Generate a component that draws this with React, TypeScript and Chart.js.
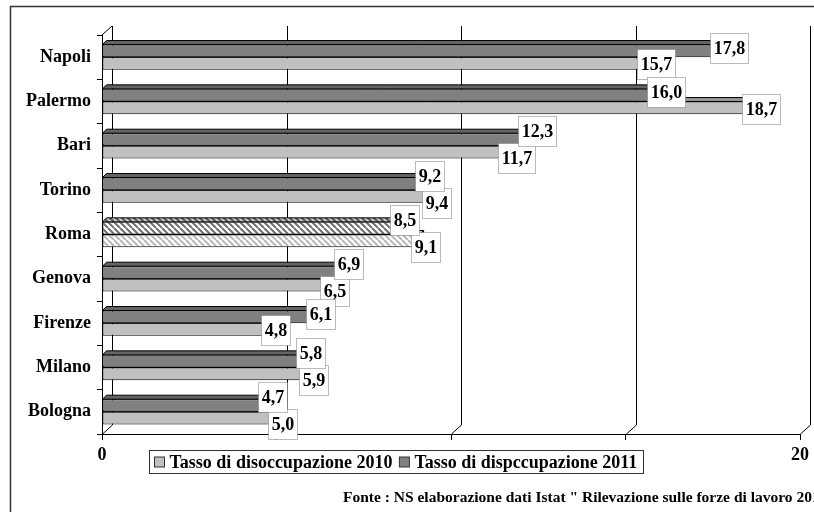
import React, { useEffect, useRef } from 'react';
import { Chart, registerables } from 'chart.js';

Chart.register(...registerables);

const cities = ['Napoli', 'Palermo', 'Bari', 'Torino', 'Roma', 'Genova', 'Firenze', 'Milano', 'Bologna'];
const rate2011 = [17.8, 16.0, 12.3, 9.2, 8.5, 6.9, 6.1, 5.8, 4.7];
const rate2010 = [15.7, 18.7, 11.7, 9.4, 9.1, 6.5, 4.8, 5.9, 5.0];
const label2010 = 'Tasso di disoccupazione 2010';
const label2011 = 'Tasso di dispccupazione 2011';
const hatchedCity = 'Roma';
const xTicksShown = [0, 20];
const sourceNote = 'Fonte : NS elaborazione dati Istat " Rilevazione sulle forze di lavoro 2011 "';

const DARK = '#808080';
const LIGHT = '#c0c0c0';
const FONT = '"Liberation Serif", "Times New Roman", serif';
const D = 4;
const WALL_DX = 10;
const WALL_DY = 9;

function makeHatch(fg: string) {
  const s = 6;
  const c = document.createElement('canvas');
  c.width = s;
  c.height = s;
  const g = c.getContext('2d')!;
  g.fillStyle = '#fff';
  g.fillRect(0, 0, s, s);
  g.strokeStyle = fg;
  g.lineWidth = 2;
  for (let k = -1; k <= 1; k++) {
    g.beginPath();
    g.moveTo(k * s, 0);
    g.lineTo(k * s + s, s);
    g.stroke();
  }
  const p = g.createPattern(c, 'repeat');
  return p || fg;
}

const wallPlugin = {
  id: 'wall',
  beforeDatasetsDraw(chart: any) {
    const { ctx, chartArea: a, scales } = chart;
    const x = scales.x;
    ctx.save();
    ctx.strokeStyle = '#000';
    ctx.lineWidth = 1;
    for (let v = 0; v <= 20; v += 5) {
      const px = Math.round(x.getPixelForValue(v)) + 0.5;
      ctx.beginPath();
      ctx.moveTo(px, a.bottom);
      ctx.lineTo(px + WALL_DX, a.bottom - WALL_DY);
      ctx.lineTo(px + WALL_DX, a.top - WALL_DY);
      ctx.stroke();
    }
    ctx.beginPath();
    ctx.moveTo(a.left, a.top);
    ctx.lineTo(a.left + WALL_DX, a.top - WALL_DY);
    ctx.stroke();
    ctx.restore();
  },
};

const barDepthPlugin = {
  id: 'barDepth',
  beforeDatasetDraw(chart: any, args: any) {
    const ctx = chart.ctx;
    const meta = args.meta;
    const ds = chart.data.datasets[args.index];
    ctx.save();
    ctx.strokeStyle = '#000';
    ctx.lineWidth = 1;
    meta.data.forEach((bar: any, i: number) => {
      const { x, y, base, height } = bar.getProps(['x', 'y', 'base', 'height'], true);
      const top = y - height / 2;
      const bottom = y + height / 2;
      const fill = Array.isArray(ds.backgroundColor) ? ds.backgroundColor[i] : ds.backgroundColor;
      ctx.beginPath();
      ctx.moveTo(base, top);
      ctx.lineTo(base + D, top - D);
      ctx.lineTo(x + D, top - D);
      ctx.lineTo(x, top);
      ctx.closePath();
      ctx.fillStyle = fill;
      ctx.fill();
      ctx.fillStyle = 'rgba(0,0,0,0.22)';
      ctx.fill();
      ctx.stroke();
      ctx.beginPath();
      ctx.moveTo(x, top);
      ctx.lineTo(x + D, top - D);
      ctx.lineTo(x + D, bottom - D);
      ctx.lineTo(x, bottom);
      ctx.closePath();
      ctx.fillStyle = fill;
      ctx.fill();
      ctx.fillStyle = 'rgba(0,0,0,0.35)';
      ctx.fill();
      ctx.stroke();
    });
    ctx.restore();
  },
};

const valueBoxPlugin = {
  id: 'valueBoxes',
  afterDatasetsDraw(chart: any) {
    const ctx = chart.ctx;
    ctx.save();
    ctx.font = 'bold 18px ' + FONT;
    ctx.textAlign = 'center';
    ctx.textBaseline = 'middle';
    const h = 30;
    const boxes: any[][] = [[], []];
    [0, 1].forEach((di) => {
      const meta = chart.getDatasetMeta(di);
      const ds = chart.data.datasets[di];
      meta.data.forEach((bar: any, i: number) => {
        const { x, y } = bar.getProps(['x', 'y'], true);
        const text = Number(ds.data[i]).toFixed(1).replace('.', ',');
        const w = Math.round(ctx.measureText(text).width + 6);
        const cx = x + 6;
        const cy = di === 0 ? y - 3 : y + 1;
        boxes[di][i] = { text, w, cx, cy };
      });
    });
    for (let i = 0; i < boxes[0].length; i++) {
      const a = boxes[0][i];
      const b = boxes[1][i];
      const ov = Math.min(a.cx + a.w / 2, b.cx + b.w / 2) - Math.max(a.cx - a.w / 2, b.cx - b.w / 2);
      if (ov > 4) {
        const mid = (a.cy + b.cy) / 2;
        a.cy = mid - 13.5;
        b.cy = mid + 13.5;
      }
    }
    for (const di of [1, 0]) {
      boxes[di].forEach((bx: any) => {
        const left = Math.round(bx.cx - bx.w / 2) + 0.5;
        const top = Math.round(bx.cy - h / 2) + 0.5;
        ctx.fillStyle = '#fff';
        ctx.fillRect(left, top, bx.w, h);
        ctx.setLineDash([1, 1]);
        ctx.strokeStyle = '#777';
        ctx.lineWidth = 1;
        ctx.strokeRect(left, top, bx.w, h);
        ctx.setLineDash([]);
        ctx.fillStyle = '#000';
        ctx.fillText(bx.text, left + bx.w / 2, top + h / 2 + 1);
      });
    }
    ctx.restore();
  },
};

const decorPlugin = {
  id: 'decor',
  afterDraw(chart: any) {
    const ctx = chart.ctx;
    ctx.save();
    ctx.strokeStyle = '#333';
    ctx.lineWidth = 1.5;
    ctx.strokeRect(10.5, 6.5, 830, 530);
    ctx.font = 'bold 18px ' + FONT;
    ctx.textBaseline = 'middle';
    ctx.textAlign = 'left';
    const left = 149.5;
    const top = 450.5;
    const h = 23;
    const cy = top + h / 2;
    let cx = left + 5;
    [1, 0].forEach((di) => {
      const ds = chart.data.datasets[di];
      ctx.fillStyle = ds.legendColor;
      ctx.fillRect(cx, cy - 5, 10, 10);
      ctx.strokeStyle = '#333';
      ctx.lineWidth = 1;
      ctx.strokeRect(cx, cy - 5, 10, 10);
      cx += 15;
      ctx.fillStyle = '#000';
      ctx.fillText(ds.label, cx, cy + 1);
      cx += ctx.measureText(ds.label).width + 7;
    });
    ctx.strokeStyle = '#333';
    ctx.lineWidth = 1;
    ctx.strokeRect(left, top, Math.round(cx - left - 1), h);
    ctx.font = 'bold 15.5px ' + FONT;
    ctx.fillStyle = '#000';
    ctx.fillText(sourceNote, 343, 498);
    ctx.restore();
  },
};

export default function App() {
  const ref = useRef<HTMLCanvasElement>(null);
  useEffect(() => {
    if (!ref.current) return;
    Chart.defaults.font.family = FONT;
    const hatchDark = makeHatch('#707070');
    const hatchLight = makeHatch('#b8b8b8');
    const darkColors = cities.map((c) => (c === hatchedCity ? hatchDark : DARK));
    const lightColors = cities.map((c) => (c === hatchedCity ? hatchLight : LIGHT));
    const chart = new Chart(ref.current, {
      type: 'bar',
      data: {
        labels: cities,
        datasets: [
          {
            label: label2011,
            data: rate2011,
            backgroundColor: darkColors as any,
            legendColor: DARK,
            borderColor: '#000',
            borderWidth: 1,
            borderSkipped: false,
            barPercentage: 1,
            categoryPercentage: 0.57,
          } as any,
          {
            label: label2010,
            data: rate2010,
            backgroundColor: lightColors as any,
            legendColor: LIGHT,
            borderColor: '#000',
            borderWidth: 1,
            borderSkipped: false,
            barPercentage: 1,
            categoryPercentage: 0.57,
          } as any,
        ],
      },
      options: {
        indexAxis: 'y',
        animation: false,
        responsive: false,
        maintainAspectRatio: false,
        layout: { padding: { top: 35, right: 12, left: 0, bottom: 0 } },
        plugins: { legend: { display: false }, tooltip: { enabled: false } },
        scales: {
          x: {
            min: 0,
            max: 20,
            ticks: {
              stepSize: 5,
              color: '#000',
              font: { size: 18, weight: 'bold' },
              padding: 5,
              maxRotation: 0,
              callback: (v: any) => (xTicksShown.includes(Number(v)) ? String(v) : ''),
            },
            grid: { drawOnChartArea: false, tickLength: 6, color: '#000' },
            border: { color: '#000' },
            afterFit: (s: any) => {
              s.height = 78;
            },
          },
          y: {
            ticks: { color: '#000', font: { size: 18, weight: 'bold' }, padding: 6 },
            grid: { drawOnChartArea: false, tickLength: 5, color: '#000', offset: true },
            border: { color: '#000' },
            afterFit: (s: any) => {
              s.width = 102;
            },
          },
        },
      } as any,
      plugins: [wallPlugin, barDepthPlugin, valueBoxPlugin, decorPlugin],
    });
    return () => chart.destroy();
  }, []);
  return (
    <div style={{ position: 'fixed', left: 0, top: 0, width: 814, height: 512, background: '#fff' }}>
      <canvas ref={ref} width={814} height={512} style={{ width: 814, height: 512 }} />
    </div>
  );
}
